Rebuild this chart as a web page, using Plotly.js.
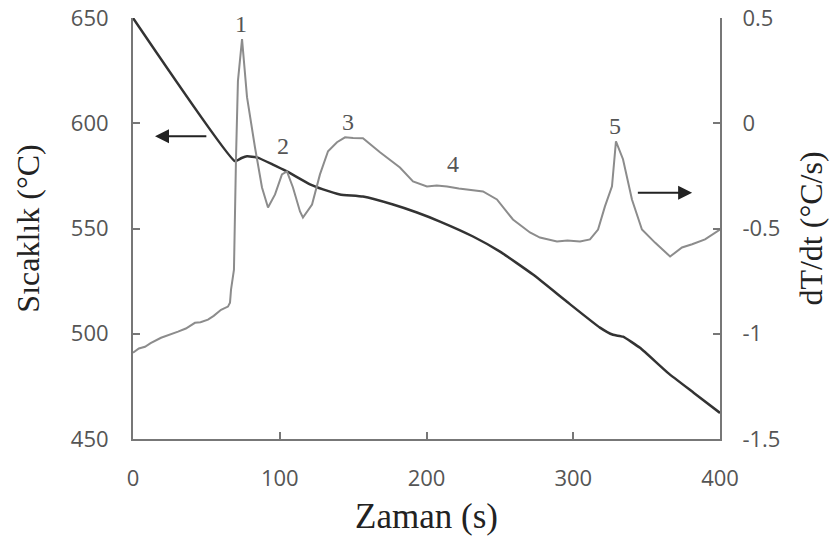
<!DOCTYPE html>
<html><head><meta charset="utf-8">
<script src="https://cdn.plot.ly/plotly-3.0.1.min.js"></script>
<style>html,body{margin:0;padding:0;background:#fff}#chart{width:835px;height:552px}</style>
</head><body><div id="chart"></div>
<script>
// Temperature curve (left axis, °C)
const tempTime = [0, 69.5, 74, 77.7, 84.5, 95, 104.9, 120.6, 129.5, 141, 156.7, 177.2, 193.5, 209.2, 231.7, 250.1, 272.6, 295.7, 318.2, 327.1, 333.9, 345.5, 364.5, 382, 400];
const tempVals = [650, 582, 583.5, 584.3, 583.8, 580.5, 577.1, 571, 568.6, 566.2, 565.2, 561.4, 557.6, 553.3, 546.2, 539, 528.1, 515.2, 502.9, 499.5, 498.6, 493.3, 481.4, 472, 462.4];

// Cooling rate curve (right axis, °C/s)
const rateTime = [0, 4, 8.2, 12, 19.1, 24, 30.7, 36, 42.2, 46, 51.1, 55, 60, 64.7, 66.1, 66.8, 68.8, 70.2, 71.5, 74.3, 77.7, 83.1, 87.9, 92, 96.8, 101.5, 104.9, 109, 113.8, 115.8, 122, 127.4, 132.9, 139, 144.5, 150, 156.7, 168.3, 181.9, 190.8, 200.3, 207, 214, 222, 231.7, 238.5, 248, 258.9, 270.5, 277.3, 288.9, 296, 304.6, 311.4, 316.9, 321.6, 326.4, 329.1, 333.9, 340, 346.8, 355.7, 366, 374.1, 381, 389.8, 400];
const rateVals = [-1.09, -1.07, -1.062, -1.045, -1.019, -1.008, -0.99, -0.975, -0.948, -0.945, -0.933, -0.915, -0.886, -0.871, -0.852, -0.79, -0.695, -0.162, 0.2, 0.4, 0.124, -0.114, -0.305, -0.4, -0.338, -0.243, -0.229, -0.305, -0.419, -0.448, -0.386, -0.243, -0.133, -0.09, -0.067, -0.07, -0.071, -0.138, -0.21, -0.276, -0.3, -0.296, -0.3, -0.31, -0.319, -0.324, -0.362, -0.457, -0.519, -0.543, -0.562, -0.557, -0.562, -0.552, -0.505, -0.395, -0.3, -0.086, -0.171, -0.362, -0.505, -0.567, -0.633, -0.59, -0.575, -0.552, -0.505];

// Axis ticks
const xTicks = [0, 100, 200, 300, 400];
const yTicks = [450, 500, 550, 600, 650];
const y2Ticks = [-1.5, -1, -0.5, 0, 0.5];
const y2TickText = ['-1.5', '-1', '-0.5', '0', '0.5'];

// Peak labels
const peakLabels = ['1', '2', '3', '4', '5'];
const peakX = [73.6, 102, 146.5, 218, 328.4];
const peakY = [647, 589, 600.5, 580.5, 598.6];

const tickFont = {family: 'Open Sans, sans-serif', size: 22, color: '#555'};
const titleFont = {family: 'Liberation Serif, serif', size: 32, color: '#222'};
const axisCommon = {
  showgrid: false, zeroline: false, showline: true, linecolor: '#777', linewidth: 2,
  ticks: 'inside', ticklen: 7, tickwidth: 2, tickcolor: '#777', tickfont: tickFont,
  fixedrange: true
};

const traces = [
  {x: tempTime, y: tempVals, type: 'scatter', mode: 'lines', yaxis: 'y',
   line: {color: '#333', width: 2.5, shape: 'spline', smoothing: 0.4}},
  {x: rateTime, y: rateVals, type: 'scatter', mode: 'lines', yaxis: 'y2',
   line: {color: '#8c8c8c', width: 2}}
];

const annotations = peakLabels.map((t, i) => ({
  x: peakX[i], y: peakY[i], xref: 'x', yref: 'y', text: t, showarrow: false,
  font: {family: 'Liberation Serif, serif', size: 24, color: '#555'}
}));
annotations.push({x: 15, y: 593.8, ax: 51, ay: 593.8, xref: 'x', yref: 'y', axref: 'x', ayref: 'y',
  showarrow: true, arrowhead: 2, arrowsize: 1.4, arrowwidth: 2, arrowcolor: '#222', text: ''});
annotations.push({x: 381, y: 567, ax: 343, ay: 567, xref: 'x', yref: 'y', axref: 'x', ayref: 'y',
  showarrow: true, arrowhead: 2, arrowsize: 1.4, arrowwidth: 2, arrowcolor: '#222', text: ''});

const layout = {
  width: 835, height: 552,
  margin: {l: 133, r: 115, t: 18, b: 113},
  paper_bgcolor: '#fff', plot_bgcolor: '#fff',
  showlegend: false,
  xaxis: Object.assign({}, axisCommon, {range: [0, 400], tickvals: xTicks, ticklabelstandoff: 19,
    title: {text: 'Zaman (s)', font: Object.assign({}, titleFont, {size: 35}), standoff: 12}}),
  yaxis: Object.assign({}, axisCommon, {range: [450, 650], tickvals: yTicks, ticklabelstandoff: 18,
    title: {text: 'Sıcaklık (°C)', font: titleFont, standoff: 22}}),
  yaxis2: Object.assign({}, axisCommon, {range: [-1.5, 0.5], tickvals: y2Ticks, ticktext: y2TickText,
    overlaying: 'y', side: 'right', ticklabelstandoff: 16,
    title: {text: 'dT/dt (°C/s)', font: titleFont, standoff: 20}}),
  annotations: annotations
};

Plotly.newPlot('chart', traces, layout, {staticPlot: true, displayModeBar: false});
</script></body></html>
